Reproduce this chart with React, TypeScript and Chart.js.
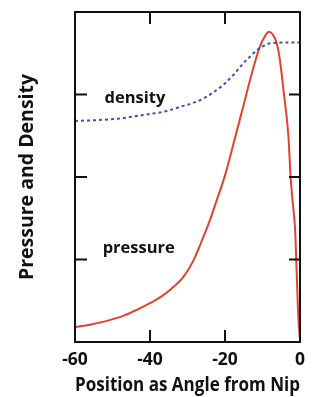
import React, { useEffect, useRef } from "react";
import { Chart, registerables } from "chart.js";

Chart.register(...registerables);

const pressureX = [-60, -56, -52, -47, -43.5, -40, -37, -34.7, -31.1, -28.4, -25.8, -24, -22.2, -20, -16.9, -15, -13.3, -10.7, -9.3, -8.3, -7.3, -6.2, -5.3, -4.4, -3.1, -2.5, -2.0, -1.3, -1.0, -0.5, 0];
const pressureY = [0.18, 0.21, 0.25, 0.32, 0.39, 0.47, 0.55, 0.63, 0.79, 0.99, 1.27, 1.48, 1.72, 2.02, 2.55, 2.88, 3.18, 3.58, 3.71, 3.76, 3.73, 3.62, 3.4, 3.05, 2.5, 2.0, 1.72, 1.36, 1.0, 0.35, 0.02];

const densityX = [-60, -54, -48, -43.5, -39.1, -35.5, -32, -29, -25.8, -23, -20.4, -17.7, -15.1, -13.3, -11.5, -9.7, -8, -4, 0];
const densityY = [2.68, 2.69, 2.71, 2.74, 2.77, 2.8, 2.85, 2.89, 2.95, 3.03, 3.12, 3.24, 3.38, 3.46, 3.54, 3.59, 3.62, 3.63, 3.63];

const xTicks = [-60, -40, -20, 0];
const yTicks = [1, 2, 3];

const curveLabels = [
  { text: "density", x: -44, y: 2.95 },
  { text: "pressure", x: -43, y: 1.13 },
];

const xTitle = "Position as Angle from Nip";
const yTitle = "Pressure and Density";

const FONT = "'Open Sans', 'DejaVu Sans', sans-serif";

export default function App() {
  const ref = useRef<HTMLCanvasElement | null>(null);

  useEffect(() => {
    const canvas = ref.current;
    if (!canvas) return;

    const framePlugin = {
      id: "frame",
      afterDraw(chart: any) {
        const { ctx, chartArea } = chart;
        const xs = chart.scales.x;
        const ys = chart.scales.y;
        ctx.save();
        ctx.strokeStyle = "#111";
        ctx.lineWidth = 2;
        ctx.strokeRect(chartArea.left, chartArea.top, chartArea.right - chartArea.left, chartArea.bottom - chartArea.top);
        const tl = 12;
        ctx.beginPath();
        xTicks.forEach((v) => {
          const px = xs.getPixelForValue(v);
          ctx.moveTo(px, chartArea.bottom);
          ctx.lineTo(px, chartArea.bottom - tl);
          ctx.moveTo(px, chartArea.top);
          ctx.lineTo(px, chartArea.top + tl);
        });
        yTicks.forEach((v) => {
          const py = ys.getPixelForValue(v);
          ctx.moveTo(chartArea.left, py);
          ctx.lineTo(chartArea.left + tl, py);
          ctx.moveTo(chartArea.right, py);
          ctx.lineTo(chartArea.right - tl + 1, py);
        });
        ctx.stroke();
        ctx.fillStyle = "#111";
        ctx.font = `bold 16.5px ${FONT}`;
        ctx.textAlign = "center";
        ctx.textBaseline = "middle";
        curveLabels.forEach((l) => {
          ctx.fillText(l.text, xs.getPixelForValue(l.x), ys.getPixelForValue(l.y));
        });
        ctx.restore();
      },
    };

    const chart = new Chart(canvas, {
      type: "scatter",
      data: {
        datasets: [
          {
            label: "density",
            data: densityX.map((x, i) => ({ x, y: densityY[i] })),
            showLine: true,
            borderColor: "#4a4ab4",
            borderWidth: 2,
            borderDash: [3, 3],
            pointRadius: 0,
            cubicInterpolationMode: "monotone",
          },
          {
            label: "pressure",
            data: pressureX.map((x, i) => ({ x, y: pressureY[i] })),
            showLine: true,
            borderColor: "#e2432c",
            borderWidth: 2,
            pointRadius: 0,
            cubicInterpolationMode: "monotone",
          },
        ],
      },
      options: {
        animation: false,
        responsive: false,
        maintainAspectRatio: false,
        layout: { padding: { top: 12, right: 22, left: 0, bottom: 0 } },
        plugins: { legend: { display: false }, tooltip: { enabled: false } },
        scales: {
          x: {
            type: "linear",
            min: -60,
            max: 0,
            afterBuildTicks: (s: any) => {
              s.ticks = xTicks.map((v) => ({ value: v }));
            },
            afterFit: (s: any) => {
              s.height = 55;
            },
            grid: { display: false, drawTicks: false },
            border: { display: false },
            ticks: {
              padding: 8,
              color: "#111",
              font: { family: FONT, size: 17.5, weight: "bold" },
              callback: (v: any) => String(v),
            },
            title: {
              display: true,
              text: xTitle,
              color: "#111",
              font: { family: FONT, size: 19, weight: "bold" },
              padding: { top: 0, bottom: 0 },
            },
          },
          y: {
            type: "linear",
            min: 0,
            max: 4,
            afterFit: (s: any) => {
              s.width = 75;
            },
            grid: { display: false, drawTicks: false },
            border: { display: false },
            ticks: { display: false },
            title: {
              display: true,
              text: yTitle,
              color: "#111",
              font: { family: FONT, size: 19.5, weight: "bold" },
              padding: { top: 16, bottom: 0 },
            },
          },
        },
      },
      plugins: [framePlugin],
    });
    return () => chart.destroy();
  }, []);

  return (
    <div style={{ position: "fixed", left: 0, top: 0, width: 322, height: 397, background: "#fff" }}>
      <canvas ref={ref} width={322} height={397} style={{ width: 322, height: 397 }} />
    </div>
  );
}
